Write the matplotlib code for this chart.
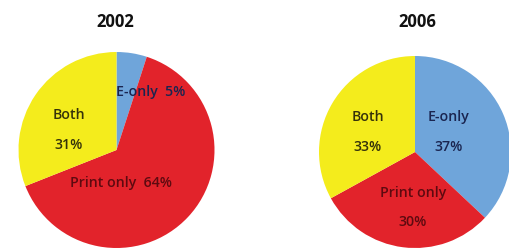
import matplotlib.pyplot as plt

plt.rcParams['font.family'] = ['Open Sans', 'DejaVu Sans']

# data
categories = ['E-only', 'Print only', 'Both']
years = ['2002', '2006']
share_2002 = [5, 64, 31]
share_2006 = [37, 30, 33]

colors = ['#6fa5da', '#e2232b', '#f4ec1c']
text_colors = ['#1a2550', '#5e0a10', '#35320a']

fig = plt.figure(figsize=(5.1, 2.48), dpi=100)

# axes placed to match the reference pie sizes
ax1 = fig.add_axes([18.5 / 510, 0, 196 / 510, 196 / 248])
ax2 = fig.add_axes([319 / 510, 0, 192 / 510, 192 / 248])

for ax, vals in [(ax1, share_2002), (ax2, share_2006)]:
    ax.pie(vals, colors=colors, startangle=90, counterclock=False,
           wedgeprops=dict(linewidth=0))
    ax.set_xlim(-1, 1)
    ax.set_ylim(-1, 1)
    ax.axis('off')

fs = 10.2
fw = 'semibold'
# 2002 labels
ax1.text(0.35, 0.59, f'{categories[0]}  {share_2002[0]}%', ha='center', va='center',
         fontsize=fs, fontweight=fw, color=text_colors[0])
ax1.text(-0.49, 0.36, categories[2], ha='center', va='center', fontsize=fs, fontweight=fw, color=text_colors[2])
ax1.text(-0.49, 0.05, f'{share_2002[2]}%', ha='center', va='center', fontsize=fs, fontweight=fw, color=text_colors[2])
ax1.text(0.05, -0.34, f'{categories[1]}  {share_2002[1]}%', ha='center', va='center',
         fontsize=fs, fontweight=fw, color=text_colors[1])

# 2006 labels
ax2.text(-0.49, 0.36, categories[2], ha='center', va='center', fontsize=fs, fontweight=fw, color=text_colors[2])
ax2.text(-0.49, 0.05, f'{share_2006[2]}%', ha='center', va='center', fontsize=fs, fontweight=fw, color=text_colors[2])
ax2.text(0.35, 0.36, categories[0], ha='center', va='center', fontsize=fs, fontweight=fw, color=text_colors[0])
ax2.text(0.35, 0.05, f'{share_2006[0]}%', ha='center', va='center', fontsize=fs, fontweight=fw, color=text_colors[0])
ax2.text(-0.02, -0.43, categories[1], ha='center', va='center', fontsize=fs, fontweight=fw, color=text_colors[1])
ax2.text(-0.02, -0.73, f'{share_2006[1]}%', ha='center', va='center', fontsize=fs, fontweight=fw, color=text_colors[1])

# titles
fig.text(115 / 510, 1 - 22 / 248, years[0], ha='center', va='center',
         fontsize=12, fontweight='bold', color='#111111')
fig.text(417 / 510, 1 - 22 / 248, years[1], ha='center', va='center',
         fontsize=12, fontweight='bold', color='#111111')

fig.savefig('out.png', dpi=100)
